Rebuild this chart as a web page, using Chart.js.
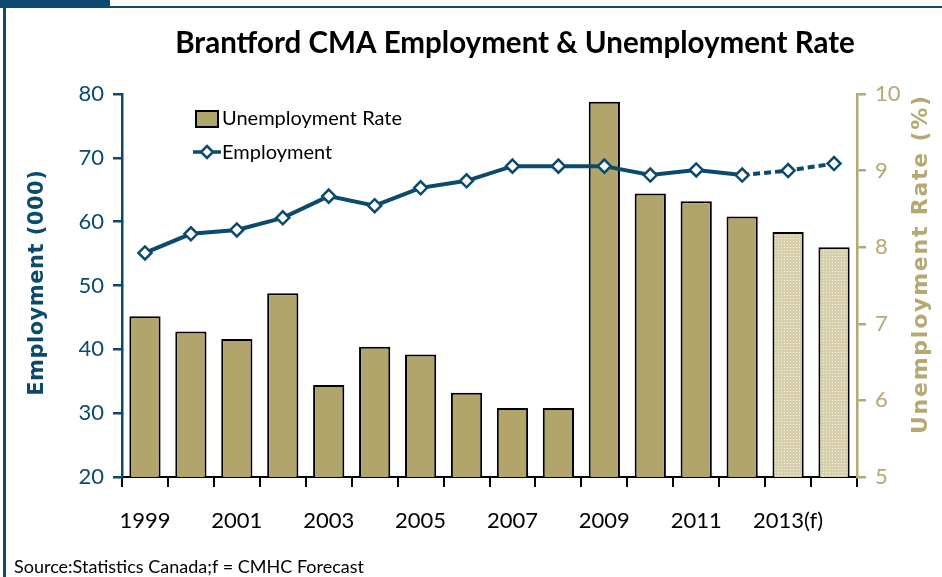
<!DOCTYPE html>
<html>
<head>
<meta charset="utf-8">
<script src="https://cdn.jsdelivr.net/npm/chart.js"></script>
<style>
  html, body { margin: 0; padding: 0; background: #fff; }
  #wrap { width: 942px; height: 577px; position: relative; }
</style>
</head>
<body>
<div id="wrap"><canvas id="chart" width="942" height="577"></canvas></div>
<script>
const years = ['1999', '2000', '2001', '2002', '2003', '2004', '2005', '2006',
  '2007', '2008', '2009', '2010', '2011', '2012', '2013(f)', '2014(f)'];
const unemploymentRate = [7.1, 6.9, 6.8, 7.4, 6.2, 6.7, 6.6, 6.1, 5.9, 5.9, 9.9, 8.7, 8.6, 8.4, 8.2, 8.0];
const employment = [55.1, 58.1, 58.7, 60.6, 64.0, 62.5, 65.3, 66.4, 68.7, 68.7, 68.7, 67.3, 68.1, 67.3, 68.0, 69.1];
const leftTicks = [20, 30, 40, 50, 60, 70, 80];
const rightTicks = [5, 6, 7, 8, 9, 10];
const forecastFrom = 14;   // bars
const dashFrom = 13;       // line segments after 2012

const BLUE = '#0b4a6d';
const TAN = '#b2a56c';
const TAN_AXIS = '#b5a872';

function makePattern() {
  const c = document.createElement('canvas');
  c.width = 3; c.height = 3;
  const g = c.getContext('2d');
  g.fillStyle = '#d8cfac';
  g.fillRect(0, 0, 3, 3);
  g.fillStyle = '#f3efe2';
  g.fillRect(1, 1, 1, 1);
  return g.createPattern(c, 'repeat');
}
const dotted = makePattern();

// draw rotated text stretched (via letter spacing) to a given length
function vText(ctx, text, x, y, len) {
  ctx.letterSpacing = '0px';
  const w = ctx.measureText(text).width;
  const sp = (len - w) / text.length;
  ctx.letterSpacing = sp + 'px';
  ctx.translate(x, y);
  ctx.rotate(-Math.PI / 2);
  ctx.fillText(text, sp / 2, 0);
  ctx.setTransform(1, 0, 0, 1, 0, 0);
  ctx.letterSpacing = '0px';
}

const decor = {
  id: 'decor',
  beforeDraw(chart) {
    const ctx = chart.ctx;
    ctx.save();
    ctx.fillStyle = '#fff';
    ctx.fillRect(0, 0, chart.width, chart.height);
    ctx.fillStyle = '#0e4a70';
    ctx.fillRect(0, 0, 110, 7);
    ctx.fillRect(0, 6, chart.width, 2);
    ctx.fillRect(3, 6, 3, chart.height);
    ctx.restore();
  },
  afterDraw(chart) {
    const ctx = chart.ctx;
    ctx.save();
    // title
    ctx.fillStyle = '#000';
    ctx.textBaseline = 'middle';
    ctx.textAlign = 'center';
    let size = 31;
    const t = 'Brantford CMA Employment & Unemployment Rate';
    ctx.font = `bold ${size}px Lato`;
    size = size * 680 / ctx.measureText(t).width;
    ctx.font = `bold ${size}px Lato`;
    ctx.fillText(t, 515, 43);

    // axis titles
    ctx.font = 'bold 21px "DejaVu Sans"';
    ctx.fillStyle = BLUE;
    vText(ctx, 'Employment (000)', 38, 283, 226);
    ctx.font = 'bold 22px "DejaVu Sans"';
    ctx.fillStyle = TAN_AXIS;
    vText(ctx, 'Unemployment Rate (%)', 921, 265, 340);

    // legend
    ctx.textAlign = 'left';
    ctx.font = '20px Lato';
    ctx.fillStyle = TAN;
    ctx.fillRect(196, 111, 22, 16);
    ctx.strokeStyle = '#000';
    ctx.lineWidth = 2;
    ctx.strokeRect(196, 111, 22, 16);
    ctx.fillStyle = '#000';
    ctx.fillText('Unemployment Rate', 222, 119);
    ctx.strokeStyle = BLUE;
    ctx.lineWidth = 3.5;
    ctx.beginPath();
    ctx.moveTo(193, 152);
    ctx.lineTo(221, 152);
    ctx.stroke();
    ctx.fillStyle = '#fff';
    ctx.lineWidth = 2.5;
    ctx.beginPath();
    ctx.moveTo(207, 146); ctx.lineTo(213, 152); ctx.lineTo(207, 158); ctx.lineTo(201, 152);
    ctx.closePath();
    ctx.fill(); ctx.stroke();
    ctx.fillStyle = '#000';
    ctx.fillText('Employment', 222, 153);

    // source
    ctx.font = '18px Lato';
    ctx.textBaseline = 'alphabetic';
    ctx.fillText('Source:Statistics Canada;f = CMHC Forecast', 14, 573);
    ctx.restore();
  }
};

new Chart(document.getElementById('chart'), {
  data: {
    labels: years,
    datasets: [
      {
        type: 'line',
        label: 'Employment',
        data: employment,
        yAxisID: 'y',
        borderColor: BLUE,
        borderWidth: 4,
        pointStyle: 'rectRot',
        pointRadius: 6.5,
        pointBackgroundColor: '#fff',
        pointBorderColor: BLUE,
        pointBorderWidth: 2.5,
        tension: 0,
        order: 0,
        segment: {
          borderDash: c => c.p0DataIndex >= dashFrom ? [7, 4] : undefined
        }
      },
      {
        type: 'bar',
        label: 'Unemployment Rate',
        data: unemploymentRate,
        yAxisID: 'y2',
        backgroundColor: unemploymentRate.map((v, i) => i >= forecastFrom ? dotted : TAN),
        borderColor: '#000',
        borderWidth: 2,
        borderSkipped: false,
        barPercentage: 0.68,
        categoryPercentage: 1,
        order: 1
      }
    ]
  },
  plugins: [decor],
  options: {
    responsive: false,
    animation: false,
    layout: { padding: { top: 94, left: 0, right: 0, bottom: 0 } },
    plugins: {
      legend: { display: false },
      tooltip: { enabled: false }
    },
    scales: {
      x: {
        offset: true,
        afterFit: s => { s.height = 100; },
        border: { display: true, color: '#000', width: 2 },
        grid: { offset: true, drawOnChartArea: false, drawTicks: true, tickLength: 10, color: '#000', lineWidth: 2 },
        ticks: {
          autoSkip: false,
          maxRotation: 0,
          padding: 21,
          color: '#000',
          font: { family: 'Lato', size: 22 },
          callback: (v, i) => i % 2 === 0 ? years[i] : ''
        }
      },
      y: {
        position: 'left',
        min: leftTicks[0],
        max: leftTicks[leftTicks.length - 1],
        afterFit: s => { s.width = 122; },
        afterBuildTicks: s => { s.ticks = leftTicks.map(v => ({ value: v })); },
        border: { display: true, color: BLUE, width: 2.5 },
        grid: { drawOnChartArea: false, drawTicks: true, tickLength: 9, color: BLUE, lineWidth: 2.5 },
        ticks: { color: BLUE, padding: 9, font: { family: 'Lato', size: 22 } }
      },
      y2: {
        position: 'right',
        min: rightTicks[0],
        max: rightTicks[rightTicks.length - 1],
        afterFit: s => { s.width = 85; },
        afterBuildTicks: s => { s.ticks = rightTicks.map(v => ({ value: v })); },
        border: { display: true, color: TAN_AXIS, width: 2.5 },
        grid: { drawOnChartArea: false, drawTicks: true, tickLength: 9, color: TAN_AXIS, lineWidth: 2.5 },
        ticks: { color: TAN_AXIS, padding: 9, font: { family: 'Lato', size: 22 } }
      }
    }
  }
});
</script>
</body>
</html>
